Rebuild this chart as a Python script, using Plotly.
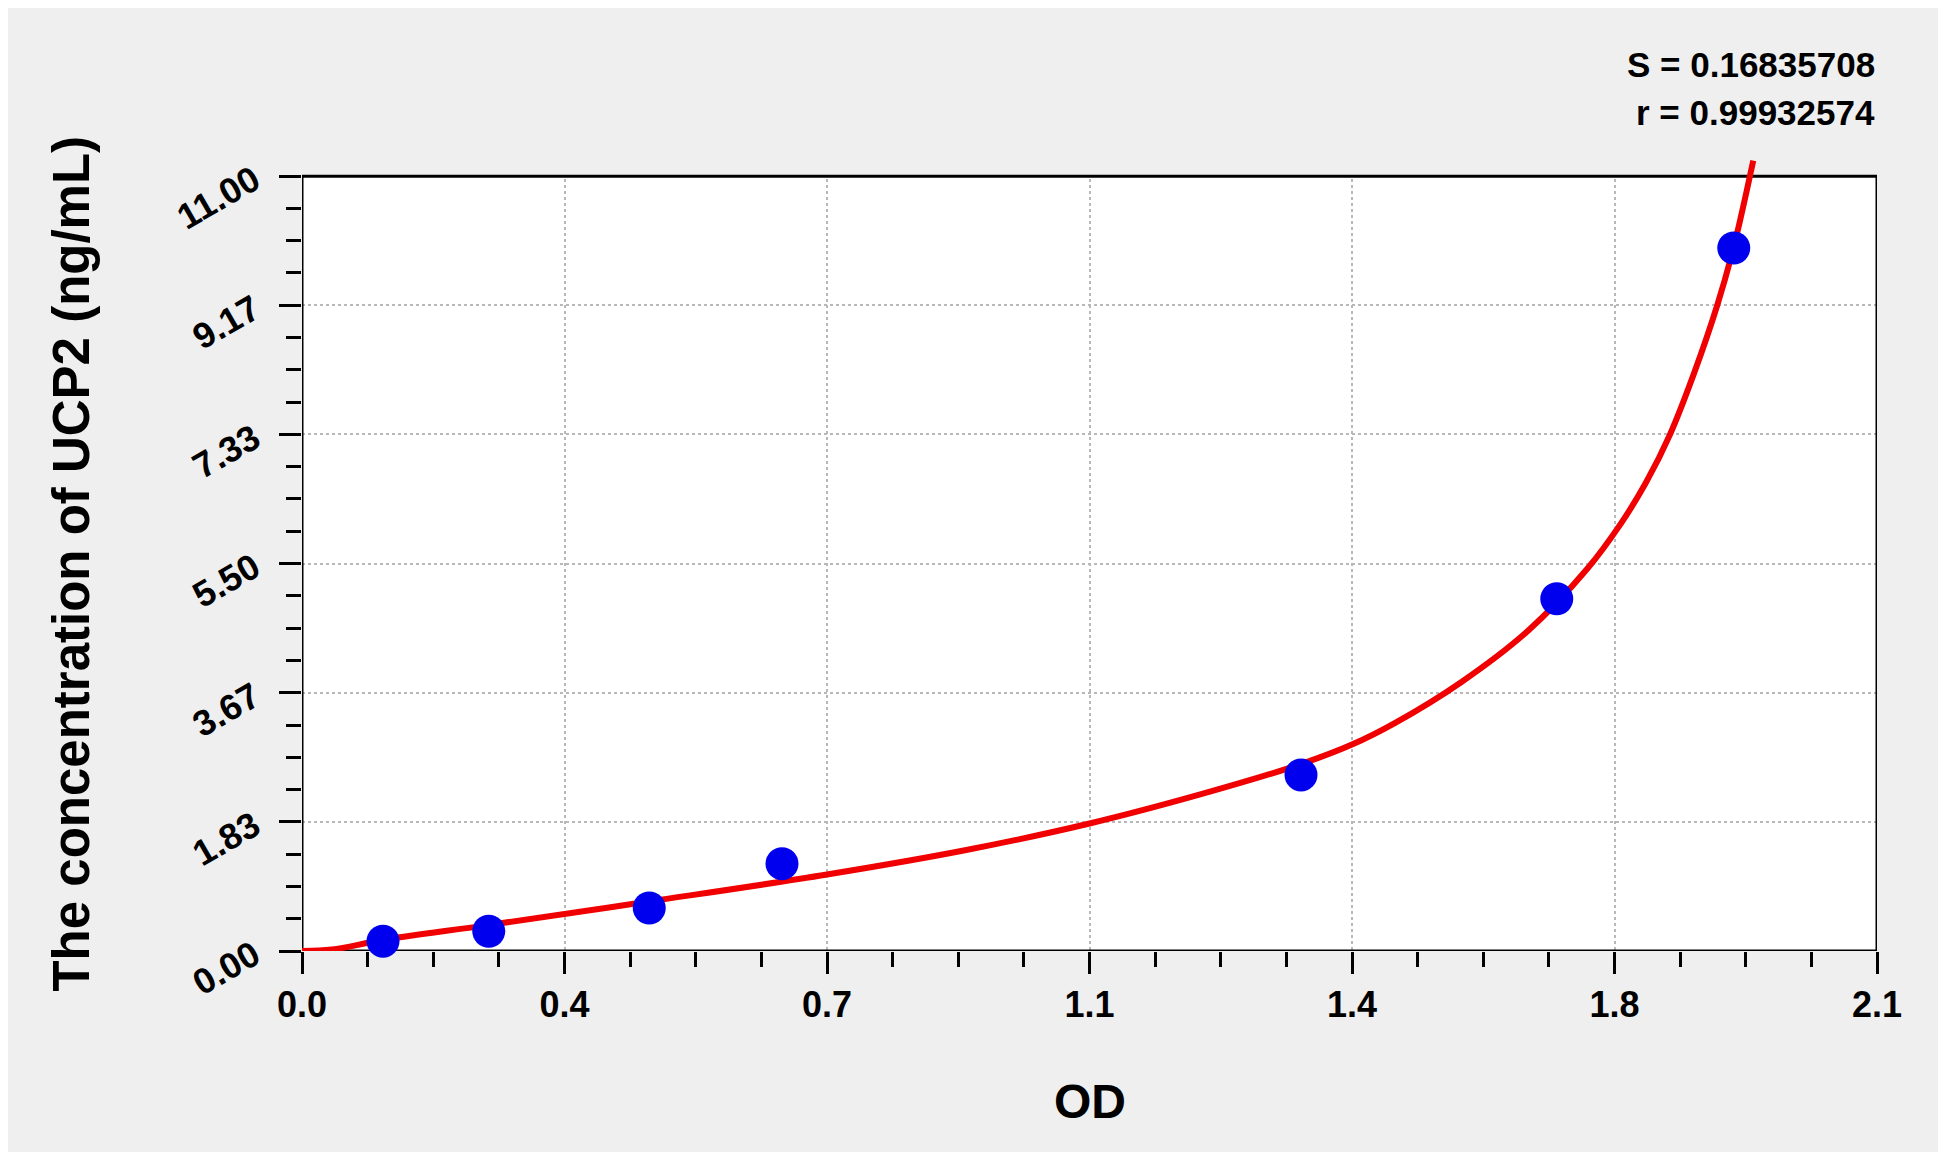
import plotly.graph_objects as go

# standard points (OD vs concentration)
od = [0.108, 0.249, 0.463, 0.640, 1.332, 1.673, 1.909]
conc = [0.14, 0.28, 0.61, 1.24, 2.50, 5.00, 9.98]

# fitted curve
fit_x = [0.0, 0.04, 0.108, 0.25, 0.464, 0.70, 0.884, 1.05, 1.20, 1.331, 1.40, 1.457,
         1.546, 1.634, 1.714, 1.758, 1.792, 1.824, 1.856, 1.887, 1.909, 1.935]
fit_y = [0.0, 0.02, 0.157, 0.371, 0.705, 1.086, 1.43, 1.81, 2.23, 2.65, 2.93, 3.235,
         3.82, 4.54, 5.43, 6.06, 6.65, 7.333, 8.2, 9.167, 9.996, 11.22]

x_ticks = [0.0, 0.35, 0.7, 1.05, 1.4, 1.75, 2.1]
x_labels = ['0.0', '0.4', '0.7', '1.1', '1.4', '1.8', '2.1']
y_ticks = [0.0, 11/6, 22/6, 5.5, 44/6, 55/6, 11.0]
y_labels = ['0.00', '1.83', '3.67', '5.50', '7.33', '9.17', '11.00']

stats = ['S = 0.16835708', 'r = 0.99932574']
x_title = 'OD'
y_title = 'The concentration of UCP2 (ng/mL)'

bg = '#efefef'
font = 'Liberation Sans, Arial, sans-serif'

fig = go.Figure()

fig.add_trace(go.Scatter(
    x=fit_x, y=fit_y, mode='lines',
    line=dict(color='#f00000', width=6, shape='spline', smoothing=1.0),
    showlegend=False, hoverinfo='skip'
))
fig.add_trace(go.Scatter(
    x=od, y=conc, mode='markers',
    marker=dict(color='#0000ee', size=33),
    cliponaxis=False, showlegend=False
))

# white plot area, grey strip above it (the fit runs past the top), black frame
fig.add_shape(type='rect', xref='x', yref='y', x0=0, x1=2.1, y0=0, y1=11,
              fillcolor='white', line_width=0, layer='below')
fig.add_shape(type='rect', xref='x', yref='y', x0=0, x1=2.1, y0=11, y1=11.3,
              fillcolor=bg, line_width=0, layer='between')
fig.add_shape(type='rect', xref='x', yref='y', x0=0, x1=2.1, y0=0, y1=11,
              line=dict(color='black', width=3), layer='between')

for txt, ypos in zip(stats, [1.1137, 1.054]):
    fig.add_annotation(
        text=txt, xref='paper', yref='paper', x=1.0, y=ypos,
        xanchor='right', yanchor='middle', showarrow=False,
        font=dict(family=font, size=35, color='black', weight='bold')
    )

fig.add_annotation(
    text=x_title, xref='x', yref='y', x=1.05, y=0, yshift=-150,
    xanchor='center', yanchor='middle', showarrow=False,
    font=dict(family=font, size=48, color='black', weight='bold')
)
fig.add_annotation(
    text=y_title, xref='x', yref='y', x=0, y=5.5, xshift=-230, textangle=-90,
    xanchor='center', yanchor='middle', showarrow=False,
    font=dict(family=font, size=51, color='black', weight='bold')
)

fig.update_xaxes(
    range=[0, 2.1], tickmode='array', tickvals=x_ticks, ticktext=x_labels,
    ticks='outside', ticklen=22, tickwidth=3, tickcolor='black',
    minor=dict(dtick=0.0875, tick0=0, ticks='outside', ticklen=15, tickwidth=3,
               tickcolor='black', showgrid=False),
    showgrid=True, gridcolor='#b8b8b8', gridwidth=1.5, griddash='dot',
    showline=False, zeroline=False,
    tickfont=dict(family=font, size=36, color='black', weight='bold'),
    ticklabelstandoff=0
)
fig.update_yaxes(
    range=[0, 11.3], tickmode='array', tickvals=y_ticks, ticktext=y_labels,
    tickangle=-30,
    ticks='outside', ticklen=22, tickwidth=3, tickcolor='black',
    minor=dict(tickvals=[i * 11 / 24 for i in range(25) if i % 4], ticks='outside',
               ticklen=15, tickwidth=3, tickcolor='black', showgrid=False),
    showgrid=True, gridcolor='#b8b8b8', gridwidth=1.5, griddash='dot',
    showline=False, zeroline=False,
    tickfont=dict(family=font, size=36, color='black', weight='bold'),
    ticklabelstandoff=18
)

# page body adds an 8px margin, so the figure is 16px smaller than the window
fig.update_layout(
    width=1930, height=1144, autosize=False,
    margin=dict(l=294, r=61, t=147, b=201),
    paper_bgcolor=bg, plot_bgcolor=bg,
    showlegend=False
)

fig.write_html('out.html')
